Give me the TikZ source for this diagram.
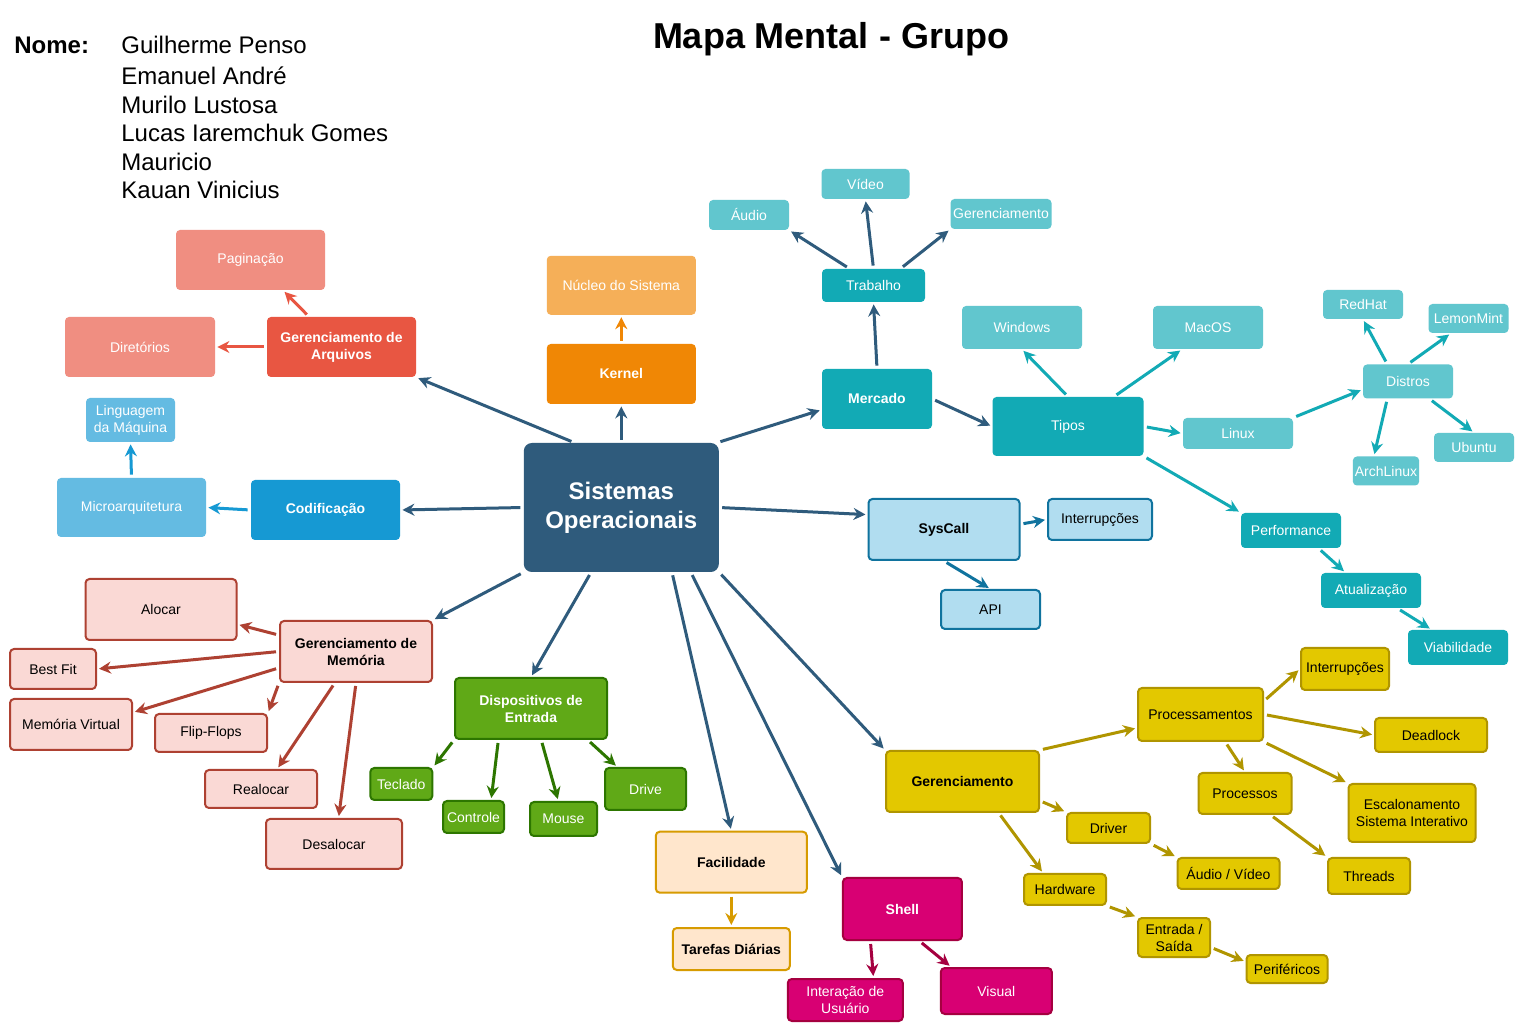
\documentclass[tikz,border=0pt]{standalone}
\usepackage{fontspec}
\setmainfont{Liberation Sans}
\usetikzlibrary{arrows.meta}

\definecolor{azulso}{HTML}{2F5B7C}
\definecolor{laranjaf}{HTML}{F08705}
\definecolor{laranjac}{HTML}{F5AF58}
\definecolor{vermelhof}{HTML}{E85642}
\definecolor{vermelhoc}{HTML}{F08E81}
\definecolor{azulf}{HTML}{1699D3}
\definecolor{azulc}{HTML}{64BBE2}
\definecolor{tealf}{HTML}{12AAB5}
\definecolor{tealc}{HTML}{61C6CE}
\definecolor{sysfill}{HTML}{B1DDF0}
\definecolor{sysline}{HTML}{10739E}
\definecolor{memfill}{HTML}{FAD9D5}
\definecolor{memline}{HTML}{AE4132}
\definecolor{verdef}{HTML}{60A917}
\definecolor{verdel}{HTML}{2D7600}
\definecolor{facfill}{HTML}{FFE6CC}
\definecolor{facline}{HTML}{D79B00}
\definecolor{shellfill}{HTML}{D80073}
\definecolor{shellline}{HTML}{A50040}
\definecolor{amarelof}{HTML}{E3C800}
\definecolor{amarelol}{HTML}{B09500}

\tikzset{
	caixa/.style={rectangle,rounded corners=2pt,inner sep=1pt,align=center,font=\fontsize{7}{8.5}\selectfont},
	negrito/.style={font=\fontsize{7}{8.5}\selectfont\bfseries},
	sz/.style 2 args={minimum width=#1*0.5pt,minimum height=#2*0.5pt},
	cheia/.style={caixa,fill=#1,text=white},
	borda/.style 2 args={caixa,fill=#1,draw=#2,line width=1pt},
	seta/.style={draw=#1,line width=1.5pt,-{Stealth[length=6pt,width=6pt,inset=2pt]},shorten <=1.5pt,shorten >=1pt}
}

\begin{document}
\begin{tikzpicture}[x=0.5pt,y=-0.5pt]
	\path[use as bounding box,fill=white] (0,0) rectangle (1522,1031);
	\node[anchor=base west,inner sep=0,font=\fontsize{12}{14}\selectfont\bfseries] (nome) at (14,54) {Nome:};
	\foreach \nm/\yy in {Guilherme Penso/54,Emanuel André/85,Murilo Lustosa/114,Lucas Iaremchuk Gomes/142,Mauricio/171,Kauan Vinicius/199}
		\node[anchor=base west,inner sep=0,font=\fontsize{12}{14}\selectfont] (membro\yy) at (121,\yy) {\nm};
	\node[anchor=base,inner sep=0,font=\fontsize{18}{21}\selectfont\bfseries] (titulo) at (831,49) {Mapa Mental - Grupo};

	\node[cheia=azulso,sz={195}{129},rounded corners=4pt,font=\fontsize{12}{14.5}\selectfont\bfseries] (so) at (621.3,507.5) {Sistemas\\Operacionais};

	\node[cheia=laranjaf,negrito,sz={149}{60}] (kernel) at (621.3,374) {Kernel};
	\node[cheia=laranjac,sz={149}{59}] (nucleo) at (621.3,285.3) {Núcleo do Sistema};

	\node[cheia=vermelhof,negrito,sz={149}{60}] (garq) at (341.5,347) {Gerenciamento de\\Arquivos};
	\node[cheia=vermelhoc,sz={149}{60}] (pag) at (250.5,260) {Paginação};
	\node[cheia=vermelhoc,sz={150}{60}] (dir) at (140,347) {Diretórios};

	\node[cheia=azulf,negrito,sz={149}{60}] (cod) at (325.5,510) {Codificação};
	\node[cheia=azulc,sz={149}{59}] (micro) at (131.5,507.5) {Microarquitetura};
	\node[cheia=azulc,sz={89}{44}] (ling) at (130.5,420) {Linguagem\\da Máquina};

	\node[cheia=tealf,negrito,sz={110}{60}] (merc) at (877,399) {Mercado};
	\node[cheia=tealf,sz={103}{33}] (trab) at (873.5,285.5) {Trabalho};
	\node[cheia=tealc,sz={80}{30}] (audio) at (749,215) {Áudio};
	\node[cheia=tealc,sz={88}{30}] (video) at (865.5,184) {Vídeo};
	\node[cheia=tealc,sz={101}{30}] (gtop) at (1001,214) {Gerenciamento};
	\node[cheia=tealf,sz={151}{59}] (tipos) at (1068,426.5) {Tipos};
	\node[cheia=tealc,sz={120}{43}] (win) at (1022,327.5) {Windows};
	\node[cheia=tealc,sz={110}{43}] (mac) at (1208,327.5) {MacOS};
	\node[cheia=tealc,sz={110}{31}] (linux) at (1238,433.5) {Linux};
	\node[cheia=tealc,sz={90}{34}] (distros) at (1408,381.5) {Distros};
	\node[cheia=tealc,sz={80}{29}] (redhat) at (1363,304.5) {RedHat};
	\node[cheia=tealc,sz={80}{29}] (lemon) at (1468.5,318.5) {LemonMint};
	\node[cheia=tealc,sz={64}{29}] (arch) at (1386,471) {ArchLinux};
	\node[cheia=tealc,sz={80}{29}] (ubuntu) at (1474,447.5) {Ubuntu};
	\node[cheia=tealf,sz={100}{35}] (perf) at (1291,530.5) {Performance};
	\node[cheia=tealf,sz={100}{35}] (atual) at (1371,590.5) {Atualização};
	\node[cheia=tealf,sz={100}{35}] (viab) at (1458,647.5) {Viabilidade};

	\node[borda={sysfill}{sysline},negrito,sz={151}{61}] (sys) at (944,529.5) {SysCall};
	\node[borda={sysfill}{sysline},sz={104}{41}] (ints) at (1100,519.5) {Interrupções};
	\node[borda={sysfill}{sysline},sz={99}{39}] (api) at (990.5,609.5) {API};

	\node[borda={memfill}{memline},negrito,sz={152}{61}] (gmem) at (356,651.5) {Gerenciamento de\\Memória};
	\node[borda={memfill}{memline},sz={151}{61}] (alocar) at (161,609.5) {Alocar};
	\node[borda={memfill}{memline},sz={86}{40}] (best) at (53,669) {Best Fit};
	\node[borda={memfill}{memline},sz={122}{51}] (memv) at (71,724.5) {Memória Virtual};
	\node[borda={memfill}{memline},sz={112}{38}] (flip) at (211,733) {Flip-Flops};
	\node[borda={memfill}{memline},sz={112}{38}] (realoc) at (261,789) {Realocar};
	\node[borda={memfill}{memline},sz={136}{50}] (desal) at (334,844) {Desalocar};

	\node[borda={verdef}{verdel},text=white,negrito,sz={152}{61}] (disp) at (531,708.5) {Dispositivos de\\Entrada};
	\node[borda={verdef}{verdel},text=white,sz={62}{32}] (teclado) at (401.3,784) {Teclado};
	\node[borda={verdef}{verdel},text=white,sz={61}{32}] (controle) at (473.5,817) {Controle};
	\node[borda={verdef}{verdel},text=white,sz={67}{34}] (mouse) at (563.5,819) {Mouse};
	\node[borda={verdef}{verdel},text=white,sz={81}{42}] (drive) at (645.5,789) {Drive};

	\node[borda={facfill}{facline},negrito,sz={151}{61}] (facil) at (731.3,862.2) {Facilidade};
	\node[borda={facfill}{facline},negrito,sz={117}{42}] (tarefas) at (731.3,949) {Tarefas Diárias};

	\node[borda={shellfill}{shellline},text=white,negrito,sz={119}{62}] (shell) at (902.4,909) {Shell};
	\node[borda={shellfill}{shellline},text=white,sz={115}{42}] (interacao) at (845.3,1000) {Interação de\\Usuário};
	\node[borda={shellfill}{shellline},text=white,sz={111}{46}] (visual) at (996.3,991) {Visual};

	\node[borda={amarelof}{amarelol},negrito,sz={153}{61}] (gery) at (962.5,781.5) {Gerenciamento};
	\node[borda={amarelof}{amarelol},sz={125}{53}] (procm) at (1200.5,714.5) {Processamentos};
	\node[borda={amarelof}{amarelol},sz={88}{42}] (inty) at (1345,669) {Interrupções};
	\node[borda={amarelof}{amarelol},sz={112}{34}] (dead) at (1431,735) {Deadlock};
	\node[borda={amarelof}{amarelol},sz={127}{58}] (escal) at (1412,813) {Escalonamento\\Sistema Interativo};
	\node[borda={amarelof}{amarelol},sz={93}{41}] (processos) at (1245,793.5) {Processos};
	\node[borda={amarelof}{amarelol},sz={82}{36}] (threads) at (1369,876) {Threads};
	\node[borda={amarelof}{amarelol},sz={83}{30}] (driver) at (1108.5,828) {Driver};
	\node[borda={amarelof}{amarelol},sz={102}{31}] (av) at (1228.5,873.5) {Áudio / Vídeo};
	\node[borda={amarelof}{amarelol},sz={82}{31}] (hard) at (1065,889.5) {Hardware};
	\node[borda={amarelof}{amarelol},sz={72}{39}] (es) at (1174,937.5) {Entrada /\\Saída};
	\node[borda={amarelof}{amarelol},sz={81}{28}] (perif) at (1287,969) {Periféricos};

	\draw[seta=azulso] (so.north) -- (kernel.south);
	\draw[seta=azulso] (so.126) -- (garq.south east);
	\draw[seta=azulso] (so.west) -- (cod.east);
	\draw[seta=azulso] (so.34) -- (merc.191);
	\draw[seta=azulso] (so.east) -- (sys.169);
	\draw[seta=azulso] (so.south west) -- (gmem.north east);
	\draw[seta=azulso] (so.245) -- (disp.north);
	\draw[seta=azulso] (so.-52.5) -- (facil.north);
	\draw[seta=azulso] (so.-43) -- (shell.north west);
	\draw[seta=azulso] (so.south east) -- (gery.north west);

	\draw[seta=laranjaf] (kernel.north) -- (nucleo.south);
	\draw[seta=vermelhof] (garq.137) -- (pag.-43);
	\draw[seta=vermelhof] (garq.west) -- (dir.east);
	\draw[seta=azulf] (cod.west) -- (micro.east);
	\draw[seta=azulf] (micro.north) -- (ling.south);

	\draw[seta=azulso] (merc.north) -- (trab.south);
	\draw[seta=azulso] (merc.east) -- (tipos.west);
	\draw[seta=azulso] (trab.145) -- (audio.south east);
	\draw[seta=azulso] (trab.north) -- (video.south);
	\draw[seta=azulso] (trab.32) -- (gtop.south west);
	\draw[seta=tealf] (tipos.north) -- (win.south);
	\draw[seta=tealf] (tipos.33) -- (mac.220);
	\draw[seta=tealf] (tipos.east) -- (linux.west);
	\draw[seta=tealf] (tipos.south east) -- (perf.north west);
	\draw[seta=tealf] (linux.north east) -- (distros.190);
	\draw[seta=tealf] (distros.140) -- (redhat.south);
	\draw[seta=tealf] (distros.north) -- (lemon.220);
	\draw[seta=tealf] (distros.220) -- (arch.129);
	\draw[seta=tealf] (distros.-39) -- (ubuntu.north);
	\draw[seta=tealf] (perf.-33) -- (atual.145);
	\draw[seta=tealf] (atual.-34) -- (viab.146);

	\draw[seta=sysline] (sys.4) -- (ints.west);
	\draw[seta=sysline] (sys.south) -- (api.north);

	\draw[seta=memline] (gmem.168) -- (alocar.-11);
	\draw[seta=memline] (gmem.west) -- (best.east);
	\draw[seta=memline] (gmem.192) -- (memv.11);
	\draw[seta=memline] (gmem.south west) -- (flip.north east);
	\draw[seta=memline] (gmem.236) -- (realoc.51);
	\draw[seta=memline] (gmem.south) -- (desal.80);

	\draw[seta=verdel] (disp.south west) -- (teclado.north east);
	\draw[seta=verdel] (disp.224) -- (controle.44);
	\draw[seta=verdel] (disp.-72) -- (mouse.106);
	\draw[seta=verdel] (disp.-29.5) -- (drive.142);

	\draw[seta=facline] (facil.south) -- (tarefas.north);
	\draw[seta=shellline] (shell.225) -- (interacao.38);
	\draw[seta=shellline] (shell.-62) -- (visual.152);

	\draw[seta=amarelol] (gery.north east) -- (procm.192);
	\draw[seta=amarelol] (procm.12) -- (inty.west);
	\draw[seta=amarelol] (procm.east) -- (dead.west);
	\draw[seta=amarelol] (procm.-48) -- (processos.north);
	\draw[seta=amarelol] (procm.south east) -- (escal.north west);
	\draw[seta=amarelol] (processos.-40) -- (threads.north west);
	\draw[seta=amarelol] (gery.-14) -- (driver.north west);
	\draw[seta=amarelol] (driver.south east) -- (av.north west);
	\draw[seta=amarelol] (gery.-41) -- (hard.143);
	\draw[seta=amarelol] (hard.south east) -- (es.north west);
	\draw[seta=amarelol] (es.-15) -- (perif.170);
\end{tikzpicture}
\end{document}
